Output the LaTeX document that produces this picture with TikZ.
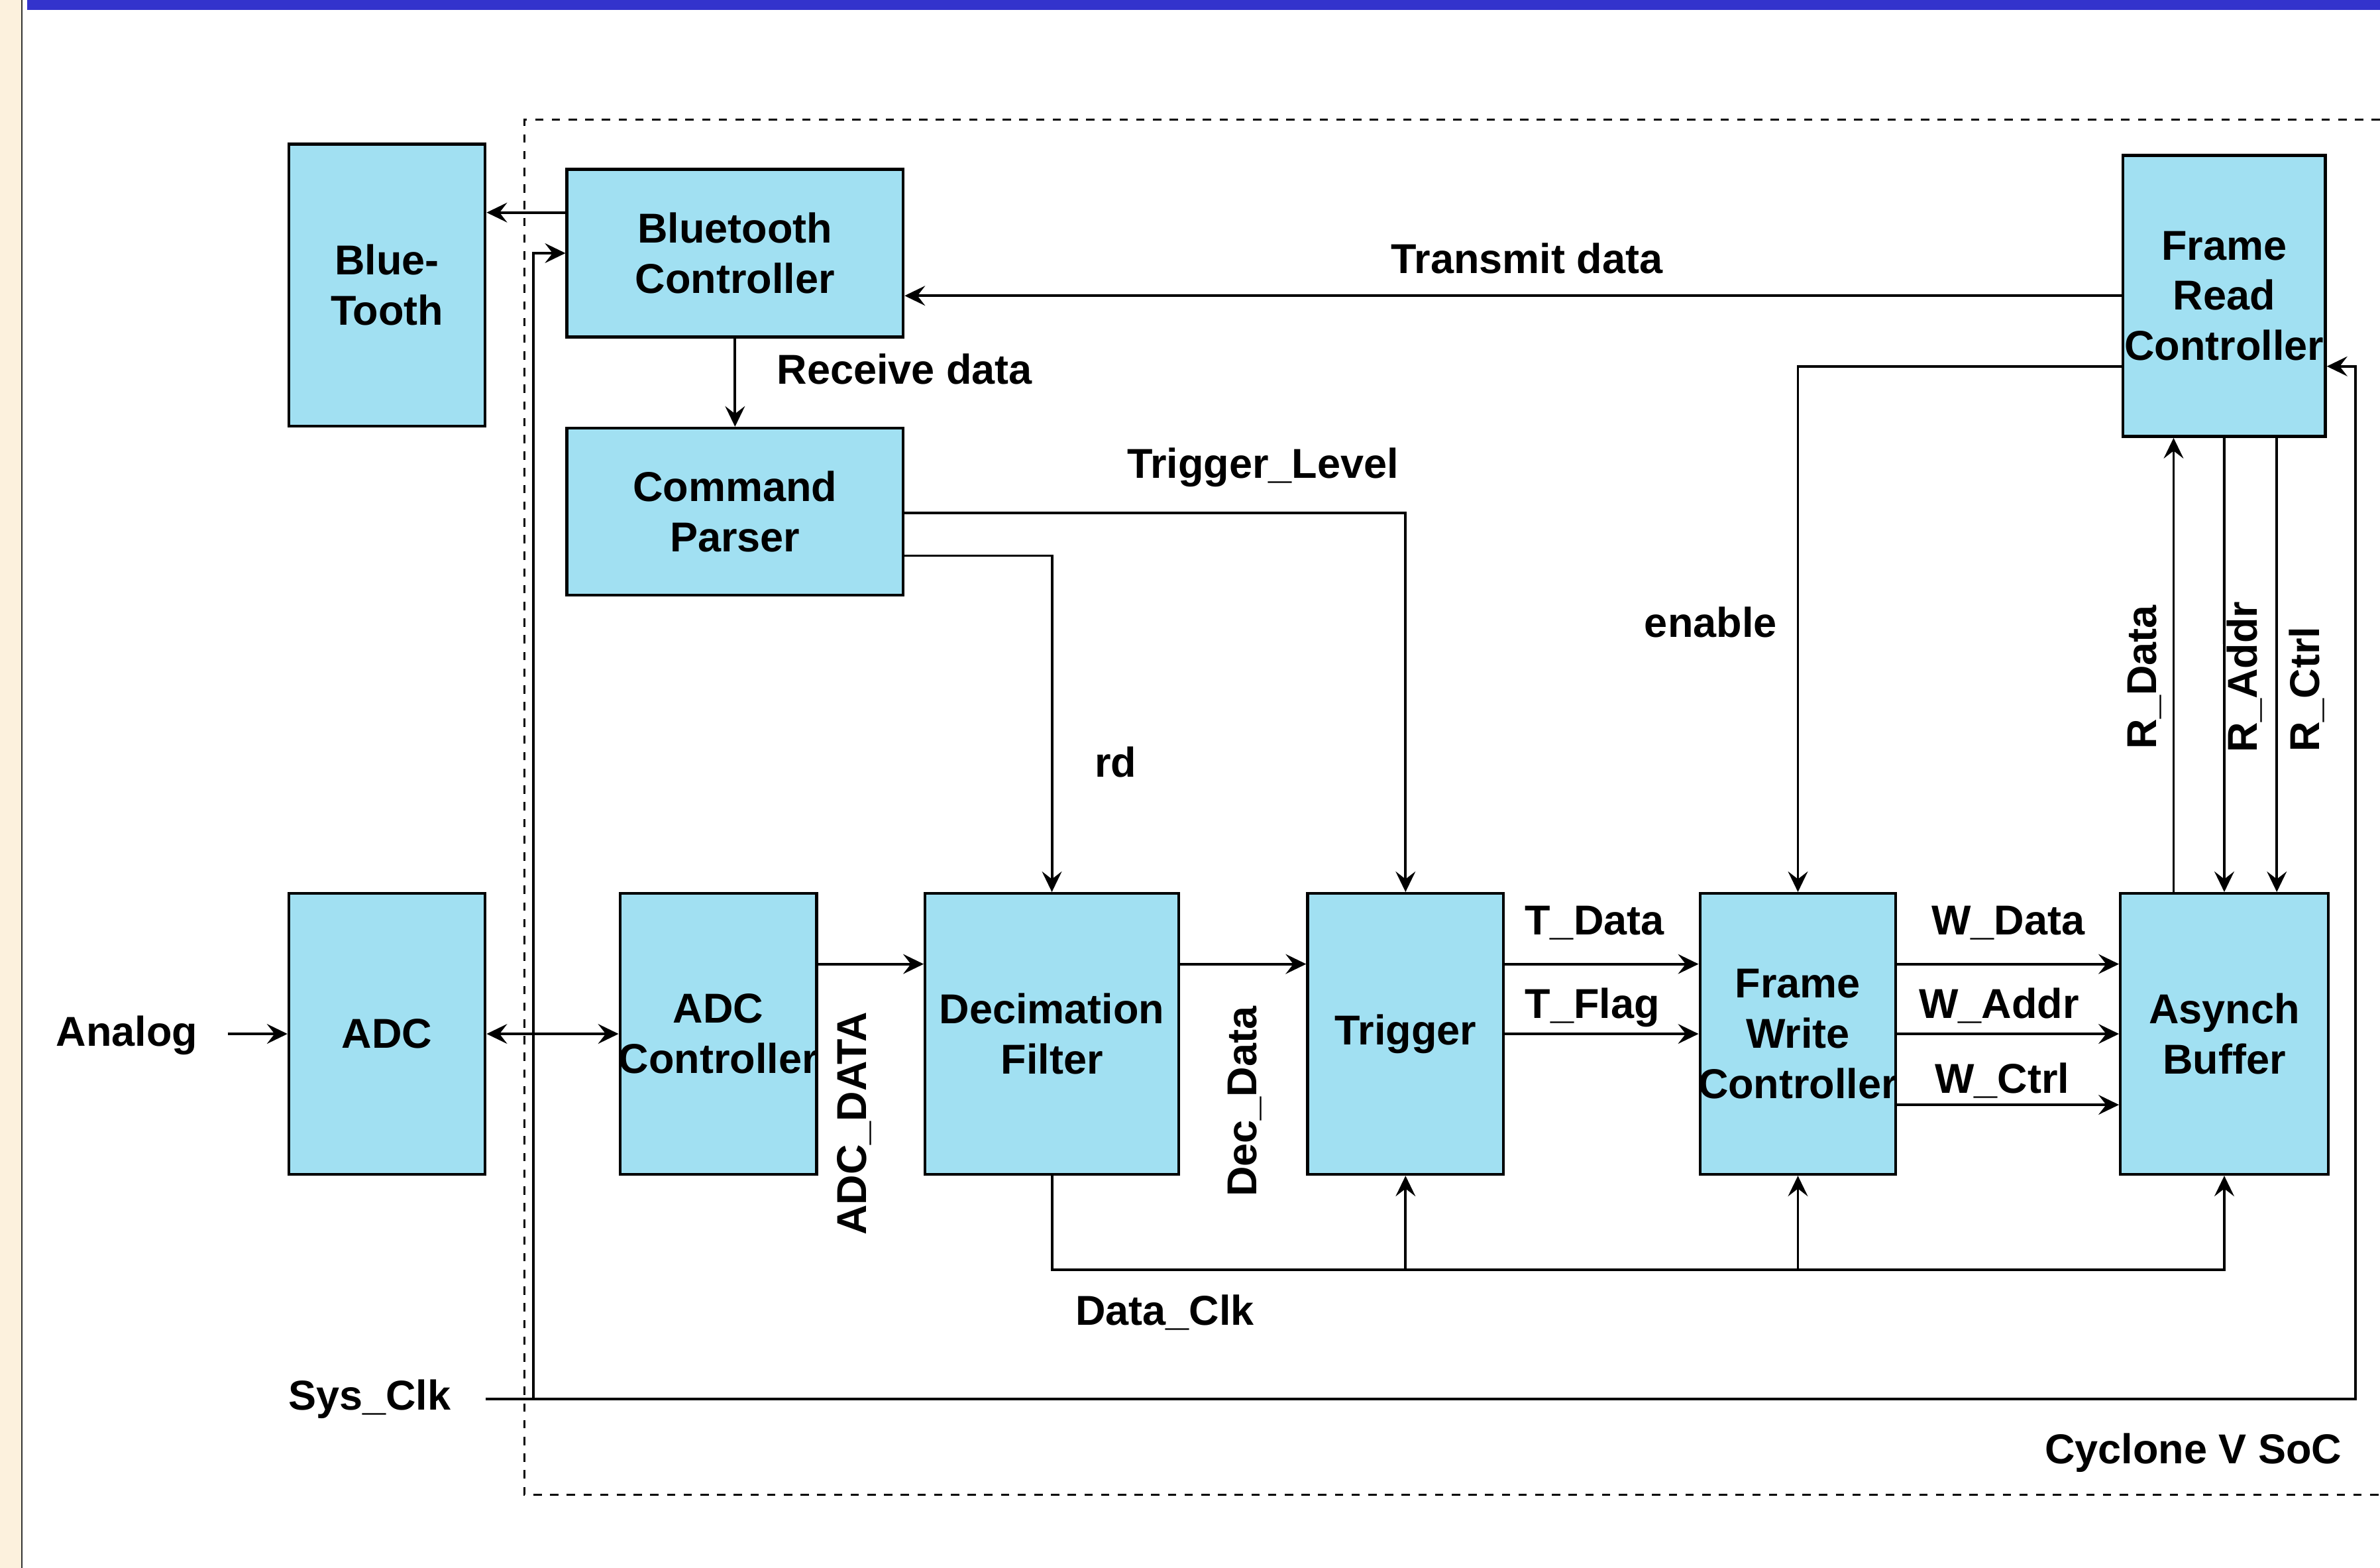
\documentclass[tikz,border=0pt]{standalone}
\usepackage{fontspec}
\setmainfont{Liberation Sans}
\usetikzlibrary{arrows.meta}
\definecolor{boxfill}{RGB}{161,224,242}
\definecolor{barblue}{RGB}{51,51,204}
\definecolor{sidebeige}{RGB}{252,241,221}
\begin{document}
\begin{tikzpicture}[x=1pt,y=-1pt,
  txt/.style={font=\fontsize{27.5}{33}\selectfont\bfseries},
  lab/.style={txt,inner sep=0pt,text height=19.7pt,text depth=0pt},
  blk/.style={draw=black,line width=1.9pt,fill=boxfill,inner sep=0pt},
  wire/.style={line width=1.7pt,line join=miter},
  tip/.tip={Stealth[length=13.5pt,width=13pt,inset=5pt]},
  arr/.style={wire,-tip},
  biarr/.style={wire,tip-tip},
  soc/.style={line width=1.5pt,dash pattern=on 5.5pt off 5.5pt}]

% page, side strip and title bar
\useasboundingbox (0,0) rectangle (1568,1032.8);
\fill[white] (0,0) rectangle (1568,1032.8);
\fill[sidebeige] (0,0) rectangle (14,1032.8);
\draw[line width=1pt,black!80] (14.5,0) -- (14.5,1032.8);
\fill[barblue] (17.9,0) rectangle (1568,6.5);

% FPGA boundary (open towards the right edge)
\coordinate (socTR) at (1568,78.9);
\coordinate (socTL) at (345.5,78.9);
\coordinate (socBL) at (345.5,984.5);
\coordinate (socBR) at (1568,984.5);
\draw[soc] (socTR) -- (socTL) -- (socBL) -- (socBR);

% blocks
\node[blk,minimum width=129.3pt,minimum height=185.6pt,label={[txt,align=center]center:Blue-\\Tooth}] (bt) at (255,187.8) {};
\node[blk,minimum width=221.5pt,minimum height=110.5pt,label={[txt,align=center]center:Bluetooth\\Controller}] (bc) at (484.25,166.75) {};
\node[blk,minimum width=221.5pt,minimum height=110pt,label={[txt,align=center]center:Command\\Parser}] (cp) at (484.25,337) {};
\node[blk,minimum width=133.3pt,minimum height=185.2pt,label={[txt,align=center]center:Frame\\Read\\Controller}] (frc) at (1465.35,194.9) {};
\node[blk,minimum width=129.3pt,minimum height=185pt,label={[txt,align=center]center:ADC}] (adc) at (255,681) {};
\node[blk,minimum width=129.5pt,minimum height=185pt,label={[txt,align=center]center:ADC\\Controller}] (adcc) at (473.25,681) {};
\node[blk,minimum width=167pt,minimum height=185pt,label={[txt,align=center]center:Decimation\\Filter}] (dec) at (693,681) {};
\node[blk,minimum width=129pt,minimum height=185pt,label={[txt,align=center]center:Trigger}] (trg) at (926,681) {};
\node[blk,minimum width=129pt,minimum height=185pt,label={[txt,align=center]center:Frame\\Write\\Controller}] (fwc) at (1184.5,681) {};
\node[blk,minimum width=136.8pt,minimum height=185pt,label={[txt,align=center]center:Asynch\\Buffer}] (ab) at (1465.4,681) {};

% signal levels
\coordinate (yBT) at (0,140);
\coordinate (yTx) at (0,194.8);
\coordinate (yEn) at (0,241.3);
\coordinate (yTL) at (0,338);
\coordinate (yRd) at (0,366);
\coordinate (yD1) at (0,635);
\coordinate (yD3) at (0,727.7);
\coordinate (yClk) at (0,836.5);
\coordinate (xRD) at (1432,0);
\coordinate (xRC) at (1500,0);
\coordinate (xSysL) at (351.5,0);
\coordinate (xSysR) at (1552,0);
\coordinate (sysin) at (320,921.5);
\coordinate (ain) at (150,681);

% connectors
\draw[arr] (bc.west |- yBT) -- (bt.east |- yBT);
\draw[arr] (frc.west |- yTx) -- (bc.east |- yTx);
\draw[arr] (bc.south) -- (cp.north);
\draw[arr] (cp.east |- yTL) -| (trg.north);
\draw[arr] (cp.east |- yRd) -| (dec.north);
\draw[arr] (frc.west |- yEn) -| (fwc.north);
\draw[arr] (ab.north -| xRD) -- (frc.south -| xRD);
\draw[arr] (frc.south) -- (ab.north);
\draw[arr] (frc.south -| xRC) -- (ab.north -| xRC);
\draw[arr] (ain) -- (adc.west);
\draw[biarr] (adc.east) -- (adcc.west);
\draw[arr] (adcc.east |- yD1) -- (dec.west |- yD1);
\draw[arr] (dec.east |- yD1) -- (trg.west |- yD1);
\draw[arr] (trg.east |- yD1) -- (fwc.west |- yD1);
\draw[arr] (trg.east) -- (fwc.west);
\draw[arr] (fwc.east |- yD1) -- (ab.west |- yD1);
\draw[arr] (fwc.east) -- (ab.west);
\draw[arr] (fwc.east |- yD3) -- (ab.west |- yD3);
% data clock
\draw[arr] (dec.south) |- (ab.south |- yClk) -- (ab.south);
\draw[arr] (trg.south |- yClk) -- (trg.south);
\draw[arr] (fwc.south |- yClk) -- (fwc.south);
% system clock
\draw[arr] (sysin) -- (xSysR |- sysin) -- (xSysR |- yEn) -- (frc.east |- yEn);
\draw[arr] (xSysL |- sysin) |- (bc.west);

% labels
\node[lab] (ltx) at (1006,170) {Transmit data};
\node[lab] (lrx) at (596,243) {Receive data};
\node[lab] (ltl) at (832,305) {Trigger\_Level};
\node[lab] (lrd) at (735,502) {rd};
\node[lab] (len) at (1127,410) {enable};
\node[lab] (ltd) at (1050.5,606) {T\_Data};
\node[lab] (ltf) at (1049,661) {T\_Flag};
\node[lab] (lwd) at (1323,606) {W\_Data};
\node[lab] (lwa) at (1317,661) {W\_Addr};
\node[lab] (lwc) at (1319,710) {W\_Ctrl};
\node[lab] (ldc) at (767.5,863) {Data\_Clk};
\node[lab] (lsc) at (243.5,919) {Sys\_Clk};
\node[lab] (lan) at (83.5,679) {Analog};
\node[lab] (lsoc) at (1445,954) {Cyclone V SoC};
\node[lab,rotate=90] (lad) at (561,740) {ADC\_DATA};
\node[lab,rotate=90] (ldd) at (818,725.5) {Dec\_Data};
\node[lab,rotate=90] (lrdt) at (1410.6,446) {R\_Data};
\node[lab,rotate=90] (lrad) at (1477,446) {R\_Addr};
\node[lab,rotate=90] (lrct) at (1518,454) {R\_Ctrl};
\end{tikzpicture}
\end{document}
